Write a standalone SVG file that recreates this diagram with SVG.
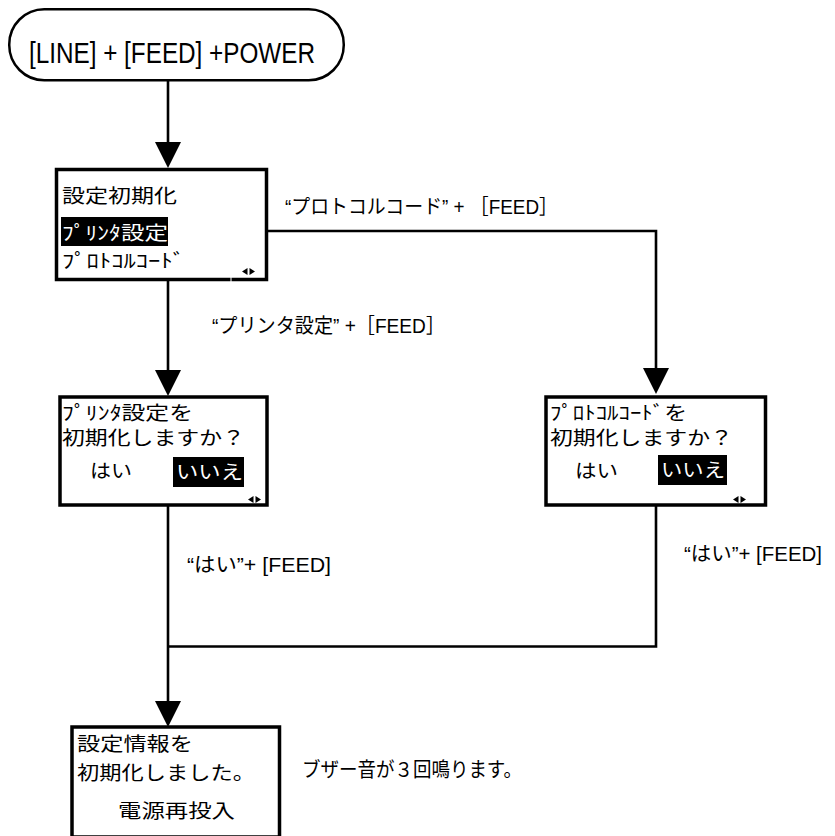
<svg xmlns="http://www.w3.org/2000/svg" width="835" height="836" viewBox="0 0 835 836">
<defs>
<style>
.box{fill:#fff;stroke:#000;stroke-width:3.5}
.ln{fill:none;stroke:#000;stroke-width:2.6}
.ah{fill:#000}
.lcd{font-family:"Noto Sans CJK JP","Noto Sans CJK SC",sans-serif;font-size:19px;fill:#000}
.inv{fill:#fff}
.lbl{font-family:"Liberation Sans","Noto Sans CJK JP",sans-serif;font-size:20px;fill:#000}
.ttl{font-family:"Liberation Sans","Noto Sans CJK JP",sans-serif;font-size:30px;fill:#000}
</style>
</defs>
<rect width="835" height="836" fill="#fff"/>
<g id="connectors">
<line class="ln" x1="168" y1="80" x2="168" y2="150"/>
<polygon class="ah" points="155,142 181,142 168,168"/>
<line class="ln" x1="168" y1="280" x2="168" y2="380"/>
<polygon class="ah" points="155,370 181,370 168,396"/>
<polyline class="ln" points="268,231 656,231 656,375"/>
<polygon class="ah" points="643,368 669,368 656,394"/>
<line class="ln" x1="168" y1="506" x2="168" y2="710"/>
<polyline class="ln" points="168,646.5 656,646.5 656,506"/>
<polygon class="ah" points="155,701 181,701 168,727"/>
<text class="lbl" x="285" y="214" textLength="273" lengthAdjust="spacingAndGlyphs">“プロトコルコード” + ［FEED］</text>
<text class="lbl" x="212" y="333" textLength="233" lengthAdjust="spacingAndGlyphs">“プリンタ設定” +［FEED］</text>
<text class="lbl" x="187" y="572" textLength="144" lengthAdjust="spacingAndGlyphs">“はい”+ [FEED]</text>
<text class="lbl" x="684" y="561" textLength="138" lengthAdjust="spacingAndGlyphs">“はい”+ [FEED]</text>
</g>
<g id="start">
<rect x="9.25" y="9.25" width="334.5" height="71" rx="35" ry="35" fill="#fff" stroke="#000" stroke-width="2.5"/>
<text class="ttl" x="29" y="63" textLength="286" lengthAdjust="spacingAndGlyphs">[LINE] + [FEED] +POWER</text>
</g>
<g id="menu">
<rect class="box" x="56.5" y="169.5" width="210" height="110"/>
<line x1="231" y1="277" x2="231" y2="282" stroke="#fff" stroke-width="1"/>
<text class="lcd" x="62" y="203" font-size="22" textLength="115" lengthAdjust="spacingAndGlyphs">設定初期化</text>
<rect x="61" y="217" width="107" height="29" fill="#000"/>
<text class="lcd inv" x="62" y="240" font-size="21" textLength="106" lengthAdjust="spacingAndGlyphs">ﾌﾟﾘﾝﾀ設定</text>
<text class="lcd" x="62" y="268" font-size="21" textLength="123" lengthAdjust="spacingAndGlyphs">ﾌﾟﾛﾄｺﾙｺｰﾄﾞ</text>
<polygon class="ah" points="242,271.5 247.5,268 247.5,275"/>
<polygon class="ah" points="249.5,268 255,271.5 249.5,275"/>
</g>
<g id="confirm-printer">
<rect class="box" x="60" y="397" width="207" height="108"/>
<text class="lcd" x="62" y="420" textLength="131" lengthAdjust="spacingAndGlyphs">ﾌﾟﾘﾝﾀ設定を</text>
<text class="lcd" x="62" y="445" textLength="183" lengthAdjust="spacingAndGlyphs">初期化しますか？</text>
<text class="lcd" x="90" y="478" textLength="42" lengthAdjust="spacingAndGlyphs">はい</text>
<rect x="173" y="457" width="71" height="30" fill="#000"/>
<text class="lcd inv" x="176" y="479" textLength="67" lengthAdjust="spacingAndGlyphs">いいえ</text>
<polygon class="ah" points="248,499.5 253.5,496 253.5,503"/>
<polygon class="ah" points="255.5,496 261,499.5 255.5,503"/>
</g>
<g id="confirm-protocol">
<rect class="box" x="546" y="397" width="219.5" height="108"/>
<text class="lcd" x="550" y="420" textLength="137" lengthAdjust="spacingAndGlyphs">ﾌﾟﾛﾄｺﾙｺｰﾄﾞを</text>
<text class="lcd" x="550" y="445" textLength="183" lengthAdjust="spacingAndGlyphs">初期化しますか？</text>
<text class="lcd" x="575" y="478" textLength="43" lengthAdjust="spacingAndGlyphs">はい</text>
<rect x="658" y="455" width="69" height="30" fill="#000"/>
<text class="lcd inv" x="661" y="477" textLength="64" lengthAdjust="spacingAndGlyphs">いいえ</text>
<polygon class="ah" points="733,499.5 738.5,496 738.5,503"/>
<polygon class="ah" points="740.5,496 746,499.5 740.5,503"/>
</g>
<g id="done">
<rect class="box" x="72" y="727" width="207.5" height="110"/>
<text class="lcd" x="77" y="751" font-size="21" textLength="116" lengthAdjust="spacingAndGlyphs">設定情報を</text>
<text class="lcd" x="77" y="780" font-size="21" textLength="178" lengthAdjust="spacingAndGlyphs">初期化しました。</text>
<text class="lcd" x="118" y="818" font-size="21" textLength="117" lengthAdjust="spacingAndGlyphs">電源再投入</text>
</g>
<g id="note">
<text class="lbl" x="302" y="777" font-size="18" textLength="220" lengthAdjust="spacingAndGlyphs">ブザー音が３回鳴ります。</text>
</g>
</svg>
